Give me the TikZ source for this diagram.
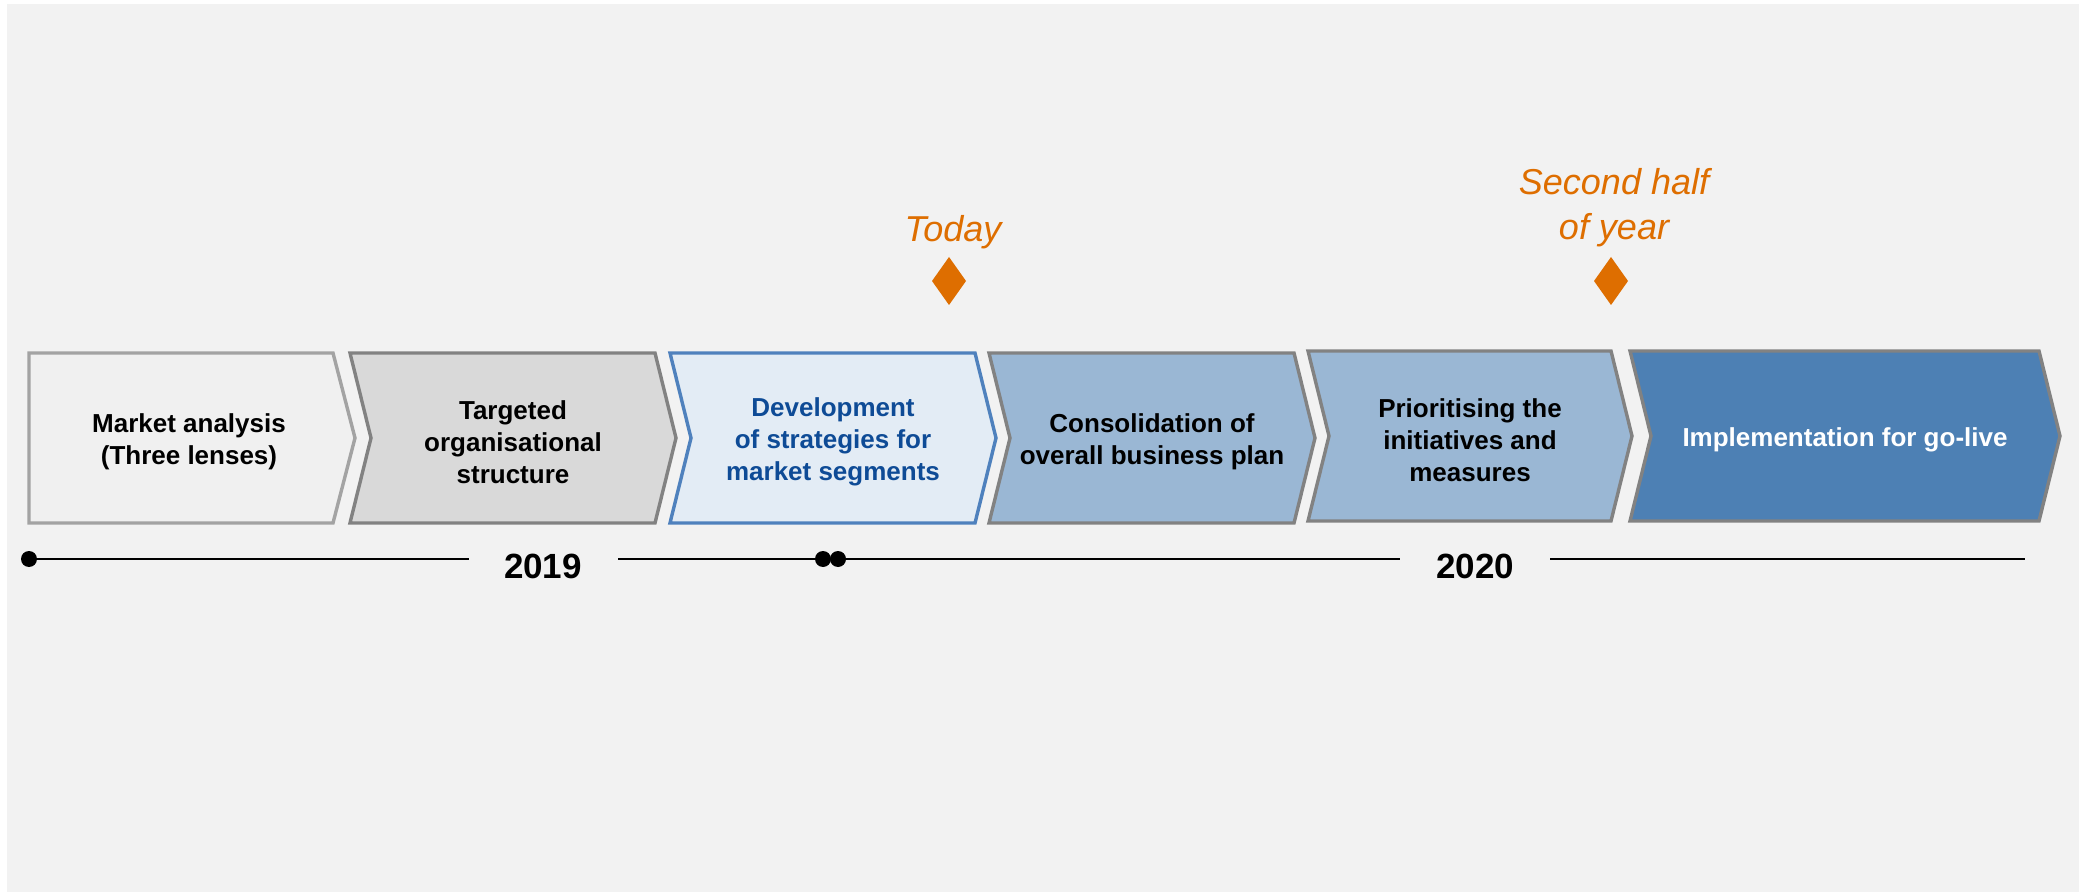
\documentclass[tikz,border=0pt]{standalone}
\usepackage{fontspec}
\setmainfont{Liberation Sans}

\definecolor{panelgray}{HTML}{F2F2F2}
\definecolor{phaseAfill}{HTML}{F0F0F0}
\definecolor{phaseAline}{HTML}{A3A3A3}
\definecolor{phaseBfill}{HTML}{D9D9D9}
\definecolor{frameline}{HTML}{828282}
\definecolor{nowfill}{HTML}{E3ECF5}
\definecolor{nowline}{HTML}{4F81BD}
\definecolor{nowtext}{RGB}{14,75,150}
\definecolor{nextfill}{RGB}{154,183,212}
\definecolor{lastfill}{RGB}{77,128,180}
\definecolor{milestone}{RGB}{222,110,0}

\begin{document}
\begin{tikzpicture}[x=0.5pt,y=-0.5pt,
  chevron/.style={line width=1.7pt, line join=miter},
  phasetext/.style={align=center, inner sep=0pt,
    font=\fontsize{13}{16}\selectfont\bfseries},
  yeartext/.style={inner sep=0pt, anchor=base,
    font=\fontsize{17.5}{21}\selectfont\bfseries},
  marktext/.style={align=center, inner sep=0pt, text=milestone,
    font=\fontsize{18}{22.5}\selectfont\itshape},
  tick/.style={circle, fill=black, inner sep=0pt, minimum size=8pt},
  axis/.style={line width=1.3pt, black}]

\useasboundingbox (0,0) rectangle (2091,892);
\fill[white] (0,0) rectangle (2091,892);
\fill[panelgray] (7,4) rectangle (2079,892);

% phase arrows
\draw[chevron, fill=phaseAfill, draw=phaseAline]
  (29,353) -- (333,353) -- (355,438) -- (333,523) -- (29,523) -- cycle;
\draw[chevron, fill=phaseBfill, draw=frameline]
  (350,353) -- (655,353) -- (676,438) -- (655,523) -- (350,523) -- (371,438) -- cycle;
\draw[chevron, fill=nowfill, draw=nowline]
  (670,353) -- (975,353) -- (996,438) -- (975,523) -- (670,523) -- (691,438) -- cycle;
\draw[chevron, fill=nextfill, draw=frameline]
  (989,353) -- (1294,353) -- (1315,438) -- (1294,523) -- (989,523) -- (1010,438) -- cycle;
\draw[chevron, fill=nextfill, draw=frameline]
  (1308,351) -- (1611,351) -- (1632,436) -- (1611,521) -- (1308,521) -- (1329,436) -- cycle;
\draw[chevron, fill=lastfill, draw=frameline]
  (1630,351) -- (2039,351) -- (2060,436) -- (2039,521) -- (1630,521) -- (1651,436) -- cycle;

% phase labels
\node[phasetext] (p1) at (189,442) {Market analysis\\(Three lenses)};
\node[phasetext] (p2) at (513,442) {Targeted\\organisational\\structure};
\node[phasetext, text=nowtext] (p3) at (833,442) {Development\\of strategies for\\market segments};
\node[phasetext] (p4) at (1152,442) {Consolidation of\\overall business plan};
\node[phasetext] (p5) at (1470,440) {Prioritising the\\initiatives and\\measures};
\node[phasetext, text=white] (p6) at (1845,440) {Implementation for go-live};

% milestones
\node[marktext, anchor=base] (today) at (953,242) {Today};
\node[marktext] (half) at (1614,208) {Second half\\of year};
\fill[milestone] (949,257) -- (966,281) -- (949,305) -- (932,281) -- cycle;
\fill[milestone] (1611,257) -- (1628,281) -- (1611,305) -- (1594,281) -- cycle;

% time axis
\node[tick] (t0) at (29,559) {};
\node[tick] (t1) at (823,559) {};
\node[tick] (t2) at (838,559) {};
\node[yeartext] (y19) at (543,578) {2019};
\node[yeartext] (y20) at (1475,578) {2020};
\coordinate (a19l) at (469,559);
\coordinate (a19r) at (618,559);
\coordinate (a20l) at (1400,559);
\coordinate (a20r) at (1550,559);
\coordinate (aend) at (2025,559);
\draw[axis] (t0.center) -- (a19l);
\draw[axis] (a19r) -- (t1.center);
\draw[axis] (t1.center) -- (t2.center);
\draw[axis] (t2.center) -- (a20l);
\draw[axis] (a20r) -- (aend);
\end{tikzpicture}
\end{document}
